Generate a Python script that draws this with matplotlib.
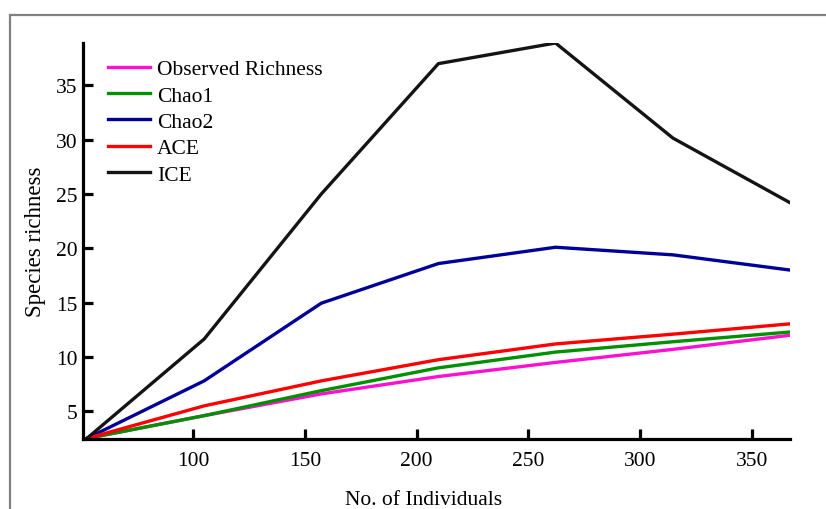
import matplotlib.pyplot as plt
from matplotlib.patches import Rectangle

# sample sizes (no. of individuals) and richness estimates
individuals = [52.4, 104.9, 157.3, 209.7, 262.1, 314.6, 367.0]
observed = [2.5, 4.6, 6.6, 8.2, 9.5, 10.7, 12.0]
chao1 = [2.5, 4.6, 6.9, 9.0, 10.45, 11.4, 12.3]
chao2 = [2.5, 7.8, 14.95, 18.6, 20.1, 19.4, 18.0]
ace = [2.5, 5.5, 7.8, 9.75, 11.2, 12.1, 13.05]
ice = [2.5, 11.65, 25.0, 37.0, 38.9, 30.15, 24.2]

series = [
    ('Observed Richness', observed, '#ff10d0'),
    ('Chao1', chao1, '#009000'),
    ('Chao2', chao2, '#000099'),
    ('ACE', ace, '#ff0000'),
    ('ICE', ice, '#141414'),
]

plt.rcParams['font.family'] = ['Liberation Serif', 'DejaVu Serif']
fs = 15.5

fig = plt.figure(figsize=(8.26, 5.10), dpi=100)
ax = fig.add_axes([83 / 826, 1 - 440 / 510, 707 / 826, 396 / 510])

for name, vals, col in series:
    ax.plot(individuals, vals, color=col, lw=2.4, label=name)

ax.set_xlim(50.7, 367.0)
ax.set_ylim(2.45, 38.9)
ax.set_xticks([100, 150, 200, 250, 300, 350])
ax.set_yticks([5, 10, 15, 20, 25, 30, 35])

for s in ['top', 'right']:
    ax.spines[s].set_visible(False)
for s in ['left', 'bottom']:
    ax.spines[s].set_linewidth(2.3)

ax.tick_params(direction='in', length=7, width=2.3, labelsize=fs)
ax.tick_params(axis='x', pad=9)
ax.tick_params(axis='y', pad=4)
ax.set_xlabel('No. of Individuals', fontsize=fs, labelpad=14)
ax.set_ylabel('Species richness', fontsize=16.5, labelpad=7)
ax.xaxis.label.set_x(0.482)

ax.legend(loc='upper left', bbox_to_anchor=(0.035, 0.959), frameon=False,
          fontsize=fs, handlelength=1.95, handletextpad=0.33,
          labelspacing=0.29, borderaxespad=0, borderpad=0)

# grey frame around the figure (only top and left visible in crop)
fig.patches.append(Rectangle((10 / 826, -0.5), 2, 1.5 - 15.5 / 510,
                             transform=fig.transFigure, fill=False,
                             edgecolor='#808080', lw=1.6))

fig.savefig('out.png', dpi=100)
